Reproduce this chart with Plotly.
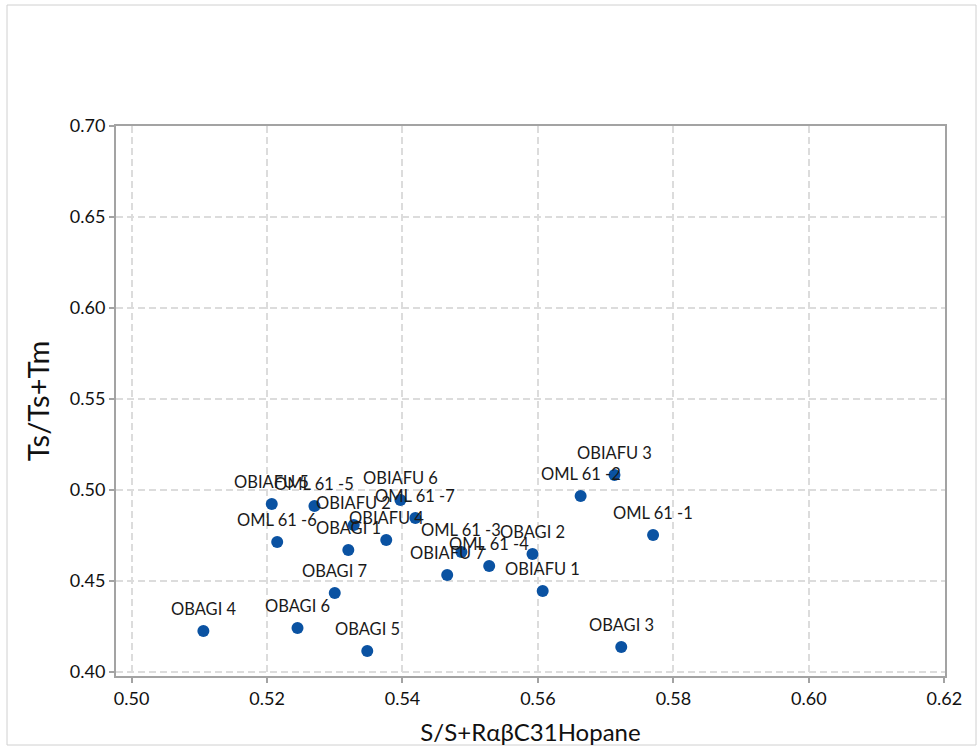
import plotly.graph_objects as go

labels = ["OBAGI 4", "OBAGI 6", "OBAGI 5", "OBAGI 3", "OBAGI 7", "OBIAFU 1", "OBIAFU 7",
          "OML 61 -4", "OML 61 -3", "OBAGI 2", "OML 61 -1", "OML 61 -2", "OBIAFU 3",
          "OBIAFU 5", "OML 61 -5", "OML 61 -6", "OBIAFU 2", "OBAGI 1", "OBIAFU 4",
          "OML 61 -7", "OBIAFU 6"]
hopane = [0.5106, 0.5245, 0.5348, 0.5723, 0.5300, 0.5607, 0.5466,
          0.5528, 0.5487, 0.5592, 0.5770, 0.5663, 0.5713,
          0.5207, 0.5270, 0.5215, 0.5328, 0.5320, 0.5376,
          0.5419, 0.5397]
tsm = [0.4225, 0.4242, 0.4115, 0.4137, 0.4434, 0.4445, 0.4533,
       0.4582, 0.4659, 0.4648, 0.4753, 0.4967, 0.5082,
       0.4923, 0.4912, 0.4714, 0.4808, 0.4670, 0.4725,
       0.4846, 0.4945]

x_ticks = [0.50, 0.52, 0.54, 0.56, 0.58, 0.60, 0.62]
y_ticks = [0.40, 0.45, 0.50, 0.55, 0.60, 0.65, 0.70]

FONT = "Lato, Open Sans, sans-serif"

fig = go.Figure(go.Scatter(
    x=hopane, y=tsm, mode="markers",
    marker=dict(size=12, color="#0A52A2"),
    cliponaxis=False,
))

for xv, yv, lab in zip(hopane, tsm, labels):
    fig.add_annotation(x=xv, y=yv, text=lab, showarrow=False, yshift=22,
                       font=dict(family=FONT, size=16.5, color="#1a1a1a"))

axis_common = dict(
    showgrid=True, gridcolor="#dcdcdc", griddash="7px,4px", gridwidth=1.5,
    showline=True, linecolor="#a3a3a3", linewidth=2, mirror=True,
    ticks="outside", ticklen=5, tickcolor="#a3a3a3", tickwidth=1.5,
    zeroline=False, automargin=False,
    tickfont=dict(family=FONT, size=18, color="#111111"),
)

fig.update_xaxes(range=[0.4977, 0.6201], tickvals=x_ticks, tickformat=".2f",
                 title=dict(text="S/S+RαβC31Hopane", font=dict(family=FONT, size=24, color="#111111"), standoff=20),
                 **axis_common)
fig.update_yaxes(range=[0.3978, 0.70], tickvals=y_ticks, tickformat=".2f",
                 title=dict(text="Ts/Ts+Tm", font=dict(family=FONT, size=29, color="#111111"), standoff=12),
                 **axis_common)

W, H = 977, 746
L, R, T, B = 116, 32, 126, 70
pw, ph = W - L - R, H - T - B
fig.add_shape(type="rect", xref="paper", yref="paper",
              x0=(7 - L) / pw, x1=(976 - L) / pw,
              y0=(H - B - 745) / ph, y1=(H - B - 5) / ph,
              line=dict(color="#d0d0d0", width=1), layer="below")

fig.update_layout(
    width=W, height=H,
    margin=dict(l=L, r=R, t=T, b=B),
    plot_bgcolor="white", paper_bgcolor="white",
    showlegend=False,
)

fig.write_html("out.html")
